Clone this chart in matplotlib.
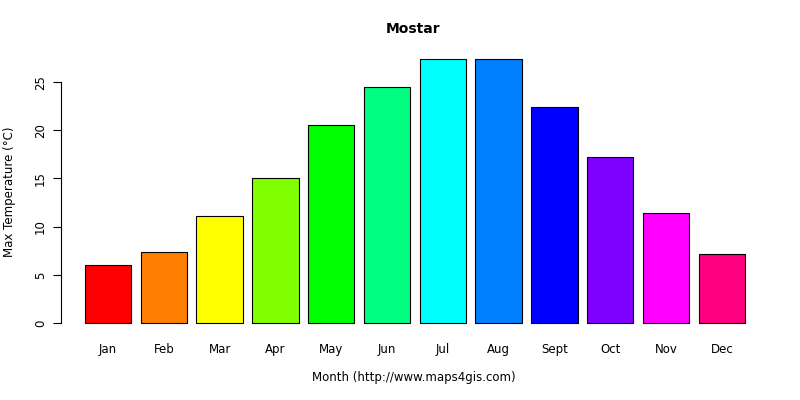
import matplotlib.pyplot as plt
import numpy as np

months = ['Jan', 'Feb', 'Mar', 'Apr', 'May', 'Jun', 'Jul', 'Aug', 'Sept', 'Oct', 'Nov', 'Dec']
max_temp = [6.0, 7.4, 11.1, 15.0, 20.5, 24.5, 27.4, 27.4, 22.4, 17.2, 11.4, 7.2]
colors = ['#FF0000', '#FF8000', '#FFFF00', '#80FF00', '#00FF00', '#00FF80',
          '#00FFFF', '#0080FF', '#0000FF', '#8000FF', '#FF00FF', '#FF0080']

fig = plt.figure(figsize=(8, 4), dpi=100)
ax = fig.add_axes([61/800, 0.166, (766-61)/800, 0.879-0.166])

x = 0.2 + 1.2*np.arange(len(months))
ax.bar(x, max_temp, width=1, align='edge', color=colors, edgecolor='black', linewidth=0.8)

ax.set_xlim(-0.31, 14.85)
ax.set_ylim(-1.1, 28.5)
for s in ['top', 'right', 'bottom']:
    ax.spines[s].set_visible(False)
ax.spines['left'].set_bounds(0, 25)
ax.set_yticks([0, 5, 10, 15, 20, 25])
ax.set_yticklabels(['0', '5', '10', '15', '20', '25'], rotation=90, va='center', fontsize=8.5)
ax.set_xticks(x + 0.5)
ax.set_xticklabels(months, fontsize=8.5)
ax.tick_params(axis='x', length=0, pad=7)
ax.tick_params(axis='y', length=6, pad=4)

ax.set_title('Mostar', fontsize=10, fontweight='bold', pad=11)
fig.text(414/800, 1-377/400, 'Month (http://www.maps4gis.com)', ha='center', va='center', fontsize=8.5)
fig.text(10/800, 1-192/400, 'Max Temperature (°C)', rotation=90, ha='center', va='center', fontsize=8.5)

fig.savefig('out.png')
